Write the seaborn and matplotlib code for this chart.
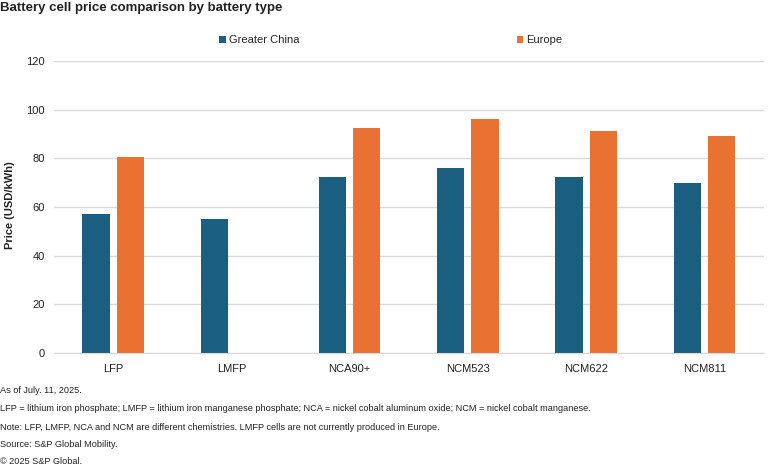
import pandas as pd
import numpy as np
import seaborn as sns
import matplotlib.pyplot as plt

sns.set_style("white")
plt.rcParams['font.family'] = ['Liberation Sans', 'DejaVu Sans']

# 数据
battery_types = ['LFP', 'LMFP', 'NCA90+', 'NCM523', 'NCM622', 'NCM811']
greater_china = [57, 55, 72.5, 76, 72.5, 70]
europe = [80.5, np.nan, 92.5, 96, 91, 89]
regions = ['Greater China', 'Europe']
colors = ['#1A5F80', '#E97132']

footnotes = [
    'As of July. 11, 2025.',
    'LFP = lithium iron phosphate; LMFP = lithium iron manganese phosphate; NCA = nickel cobalt aluminum oxide; NCM = nickel cobalt manganese.',
    'Note: LFP, LMFP, NCA and NCM are different chemistries. LMFP cells are not currently produced in Europe.',
    'Source: S&P Global Mobility.',
    '\u00a9 2025 S&P Global.',
]

df = pd.DataFrame({
    'type': battery_types * 2,
    'region': [regions[0]] * len(battery_types) + [regions[1]] * len(battery_types),
    'price': greater_china + europe,
})

fig = plt.figure(figsize=(7.78, 4.65), dpi=100)
ax = fig.add_axes([0.0694, 0.241, 0.912, 0.628])

sns.barplot(data=df, x='type', y='price', hue='region', palette=colors,
            width=0.58, gap=0.2, saturation=1, linewidth=0, ax=ax, legend=True)

ax.set_ylim(0, 120)
ax.set_yticks(range(0, 121, 20))
ax.set_xlim(-0.5, len(battery_types) - 0.5)
ax.yaxis.grid(True, color='#d9d9d9', linewidth=1)
ax.set_axisbelow(True)
for s in ['top', 'right', 'left']:
    ax.spines[s].set_visible(False)
ax.spines['bottom'].set_color('#d9d9d9')
ax.tick_params(axis='both', length=0, labelsize=8, colors='#222222')
ax.tick_params(axis='x', pad=8)
ax.tick_params(axis='y', pad=6.5)
ax.set_xlabel('')
ax.set_ylabel('')

fig.text(0.007, 0.559, 'Price (USD/kWh)', rotation=90, ha='left', va='center',
         fontsize=8, fontweight='bold', color='#222222')

leg = ax.legend(loc='lower center', bbox_to_anchor=(0.475, 1.02), ncol=2, frameon=False,
                fontsize=8, handlelength=0.6, handleheight=0.6, handletextpad=0.3,
                columnspacing=19.5)

fig.text(0.0, 0.995, 'Battery cell price comparison by battery type', ha='left', va='top',
         fontsize=9.5, fontweight='bold', color='#222222')

ys = [390, 408, 427, 444, 461]
for t, y in zip(footnotes, ys):
    fig.text(0.0, 1 - y / 465, t, ha='left', va='center', fontsize=6.6, color='#222222')

fig.savefig('out.png', dpi=100)
